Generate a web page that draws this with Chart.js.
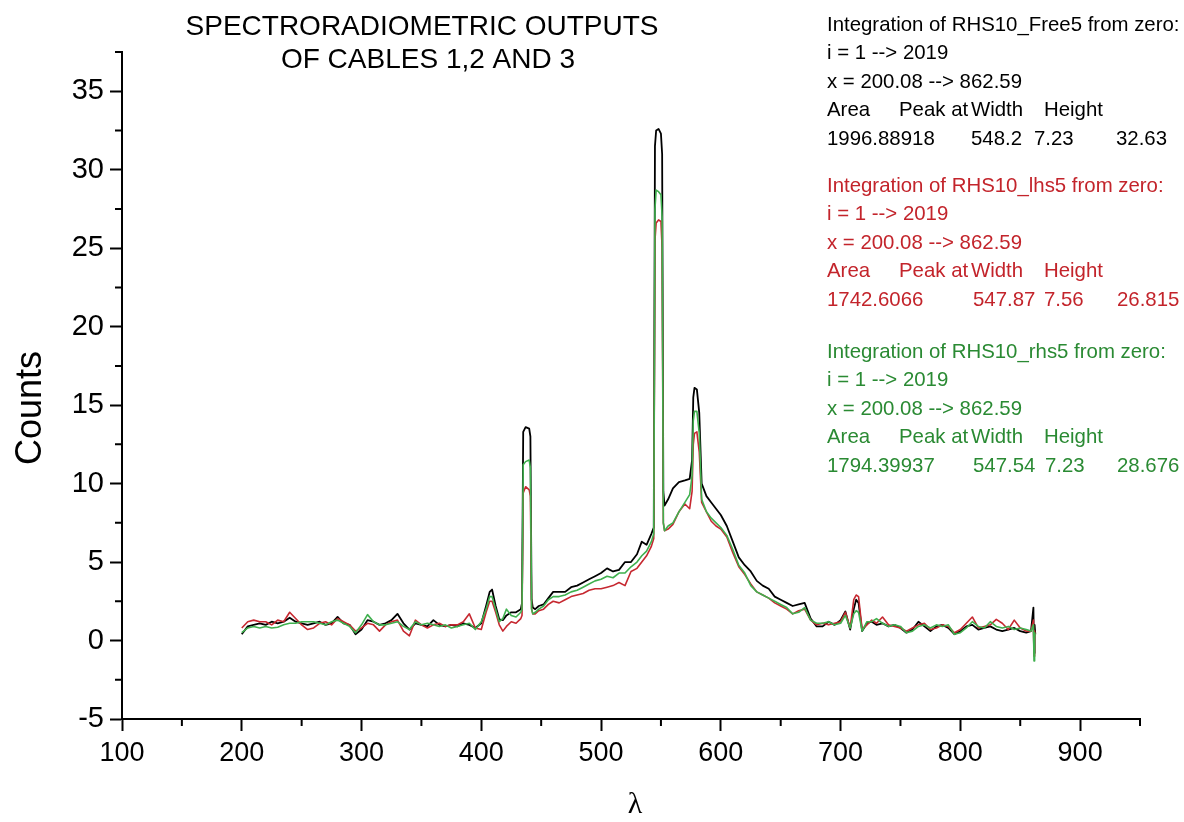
<!DOCTYPE html>
<html><head><meta charset="utf-8">
<style>html,body{margin:0;padding:0;background:#fff}#wrap{width:1184px;height:822px;position:relative}</style>
</head><body><div id="wrap"><canvas id="c" width="1184" height="822"></canvas></div>
<script src="https://cdn.jsdelivr.net/npm/chart.js@4.4.0/dist/chart.umd.min.js"></script>
<script>
// wavelength (nm)
const wavelength = [
200,205,210,215,220,225,230,235,240,245,
250,255,260,265,270,275,280,285,290,295,
300,305,310,315,320,325,330,335,340,345,
350,355,360,365,370,375,380,385,390,395,
400,
404,407,409,412,415,418,421,425,429,433,
434,435,437,440,441,442,443,445,448,452,
456,460,465,470,475,480,485,490,495,500,
505,510,515,520,525,530,534,538,542,544,
545,546,548,550,551,552,553,556,560,565,
570,574,576,577,578,580,582,584,588,592,
596,600,605,610,615,620,625,630,635,640,
645,650,655,660,665,670,675,680,685,690,
695,700,704,708,711,713,715,718,722,726,
730,735,740,745,750,755,760,765,770,775,
780,785,790,795,800,805,810,815,820,825,
830,835,840,845,850,855,859,861,861.5,862,
862.59];

// RHS10_Free5 (black)
const free5 = [
0.4,0.9,1.0,1.1,1.0,1.2,1.1,1.2,1.45,1.2,
1.1,1.0,1.1,1.2,1.0,1.1,1.5,1.1,1.0,0.4,
0.7,1.3,1.2,1.0,1.1,1.3,1.7,1.1,0.7,1.1,
1.0,0.9,1.3,1.0,0.9,1.0,0.9,1.1,1.0,0.8,
1.1,
2.2,3.1,3.25,2.2,1.35,1.3,1.6,1.8,1.8,2.0,
2.4,13.3,13.6,13.5,13.0,2.6,2.1,2.0,2.2,2.3,
2.7,3.1,3.1,3.1,3.4,3.5,3.7,3.9,4.1,4.3,
4.6,4.4,4.5,5.0,5.0,5.5,6.3,6.1,6.8,7.2,
31.5,32.5,32.6,32.3,31.0,9.5,8.6,9.0,9.7,10.1,
10.2,10.3,11.5,15.5,16.1,16.0,14.5,10.0,9.2,8.8,
8.4,8.0,7.3,6.3,5.3,4.8,4.4,3.8,3.5,3.3,
2.8,2.6,2.4,2.2,2.3,2.4,1.4,0.9,0.9,1.2,
1.0,1.3,1.85,0.7,2.0,2.6,2.4,0.6,1.1,1.2,
1.0,1.1,0.9,1.0,0.8,0.5,0.7,1.2,0.9,0.6,
0.9,1.0,0.8,0.4,0.6,0.9,1.0,0.7,0.8,0.9,
0.7,0.6,0.7,0.8,0.6,0.5,0.6,2.1,-0.8,1.0,
0.4];

// RHS10_lhs5 (red)
const lhs5 = [
0.8,1.2,1.3,1.2,1.2,1.0,1.3,1.2,1.8,1.4,
1.0,0.7,0.8,1.1,1.2,1.0,1.4,1.2,1.0,0.6,
0.8,1.1,1.0,0.6,1.0,1.2,1.3,0.6,0.3,1.3,
1.0,0.8,1.0,1.1,0.9,1.0,1.0,1.2,1.7,0.8,
0.7,
1.8,2.5,2.5,1.8,1.0,0.6,0.9,1.2,1.1,1.4,
1.6,9.4,9.8,9.6,9.2,2.0,1.7,1.7,1.9,2.0,
2.3,2.5,2.4,2.6,2.8,2.9,3.0,3.2,3.3,3.3,
3.4,3.5,3.7,3.5,4.4,4.6,5.0,5.4,6.0,6.5,
25.5,26.6,26.8,26.7,25.0,7.5,7.0,7.1,7.4,8.2,
8.7,8.4,9.5,12.5,13.2,13.3,12.0,8.8,8.2,7.6,
7.3,7.1,6.6,5.6,4.7,4.2,3.6,3.1,2.9,2.7,
2.4,2.2,2.0,1.7,1.9,2.0,1.3,1.0,1.1,1.0,
1.1,1.2,1.8,0.8,2.6,2.9,2.8,0.7,1.0,1.3,
1.1,1.5,1.0,0.9,0.8,0.6,0.8,1.0,1.1,0.7,
0.8,1.0,0.9,0.5,0.7,1.1,1.5,0.8,0.9,1.0,
1.35,1.1,0.7,1.3,0.8,0.6,0.6,1.3,-1.0,0.6,
0.3];

// RHS10_rhs5 (green)
const rhs5 = [
0.5,0.8,0.9,0.8,0.9,0.8,0.85,1.0,1.1,1.1,
1.2,1.2,1.2,1.1,1.0,1.2,1.3,1.1,0.9,0.5,
1.0,1.65,1.2,1.0,1.0,1.1,1.2,0.9,0.7,1.2,
1.0,1.1,1.0,0.9,1.0,0.8,0.9,1.0,1.1,0.7,
1.2,
2.0,2.8,2.8,2.0,1.2,1.4,2.0,1.6,1.5,1.8,
2.0,11.2,11.4,11.5,11.0,2.0,1.7,1.8,2.0,2.2,
2.6,2.8,2.8,2.9,3.1,3.2,3.4,3.6,3.8,3.9,
4.1,4.0,4.3,4.3,4.7,5.0,5.4,5.7,6.3,6.8,
27.5,28.7,28.6,28.4,27.0,7.5,7.0,7.3,7.5,8.2,
8.8,9.3,10.5,14.0,14.6,14.6,13.2,9.0,8.2,7.8,
7.5,7.2,6.7,5.8,4.8,4.3,3.5,3.1,2.9,2.7,
2.5,2.3,2.1,1.7,1.8,2.1,1.3,1.1,1.1,1.2,
1.0,1.1,1.6,0.8,1.7,1.9,1.8,0.6,1.2,1.2,
1.4,1.1,0.9,1.0,0.9,0.5,0.6,0.9,1.0,0.8,
1.0,0.9,1.0,0.4,0.5,0.8,1.2,0.9,0.8,1.2,
0.9,0.8,0.9,0.7,0.8,0.7,0.6,1.0,-1.3,0.5,
0.3];

const xMinorTicks = [150,250,350,450,550,650,750,850,950];
const yMinorTicks = [-2.5,2.5,7.5,12.5,17.5,22.5,27.5,32.5,37.5];

const titleLines = ["SPECTRORADIOMETRIC OUTPUTS", "OF CABLES 1,2 AND 3"];
const xTitle = "λ";
const yTitle = "Counts";

const headerCols = ["Area", "Peak at", "Width", "Height"];
const blocks = [
  {color:'#000000', lines:["Integration of RHS10_Free5 from zero:", "i = 1 --> 2019", "x = 200.08 --> 862.59"],
   values:["1996.88918","548.2","7.23","32.63"]},
  {color:'#c3242b', lines:["Integration of RHS10_lhs5 from zero:", "i = 1 --> 2019", "x = 200.08 --> 862.59"],
   values:["1742.6066","547.87","7.56","26.815"]},
  {color:'#2a8a33', lines:["Integration of RHS10_rhs5 from zero:", "i = 1 --> 2019", "x = 200.08 --> 862.59"],
   values:["1794.39937","547.54","7.23","28.676"]}
];

const FONT = '"Liberation Sans", Arial, sans-serif';
Chart.defaults.font.family = FONT;
Chart.defaults.color = '#000';

const pts = arr => wavelength.map((x, i) => ({x: x, y: arr[i]}));

const decor = {
  id: 'decor',
  afterDraw(chart) {
    const ctx = chart.ctx, a = chart.chartArea, xs = chart.scales.x, ys = chart.scales.y;
    ctx.save();
    ctx.strokeStyle = '#000'; ctx.lineWidth = 2;
    ctx.beginPath();
    xMinorTicks.forEach(v => { const p = xs.getPixelForValue(v); ctx.moveTo(p, a.bottom); ctx.lineTo(p, a.bottom + 7); });
    yMinorTicks.forEach(v => { const p = ys.getPixelForValue(v); ctx.moveTo(a.left, p); ctx.lineTo(a.left - 7, p); });
    ctx.stroke();

    ctx.fillStyle = '#000';
    ctx.textBaseline = 'middle';
    ctx.textAlign = 'center';
    ctx.font = '28px ' + FONT;
    ctx.fillText(titleLines[0], 422, 27);
    ctx.fillText(titleLines[1], 428, 60);

    ctx.font = '30px "Liberation Serif", "DejaVu Serif", serif';
    ctx.fillText(xTitle, 635, 805);

    ctx.save();
    ctx.translate(31, 408);
    ctx.rotate(-Math.PI / 2);
    ctx.font = '36px ' + FONT;
    ctx.fillText(yTitle, 0, 0);
    ctx.restore();

    ctx.textAlign = 'left';
    ctx.font = '20.4px ' + FONT;
    const headX = [827, 899, 971, 1044];
    const valX = [[827, 971, 1034, 1116], [827, 973, 1044, 1117], [827, 973, 1045, 1117]];
    const blockTop = [25, 186, 352];
    blocks.forEach((b, bi) => {
      ctx.fillStyle = b.color;
      const y0 = blockTop[bi];
      b.lines.forEach((t, li) => ctx.fillText(t, 827, y0 + li * 28.6));
      headerCols.forEach((t, ci) => ctx.fillText(t, headX[ci], y0 + 3 * 28.6));
      b.values.forEach((t, ci) => ctx.fillText(t, valX[bi][ci], y0 + 4 * 28.6));
    });
    ctx.restore();
  }
};

new Chart(document.getElementById('c'), {
  type: 'line',
  data: {
    datasets: [
      {label:'RHS10_Free5', data: pts(free5), borderColor:'#000000', borderWidth:1.8, pointRadius:0, order:2},
      {label:'RHS10_lhs5', data: pts(lhs5), borderColor:'#c62830', borderWidth:1.6, pointRadius:0, order:1},
      {label:'RHS10_rhs5', data: pts(rhs5), borderColor:'#3fb04e', borderWidth:1.6, pointRadius:0, order:0}
    ]
  },
  options: {
    responsive: false,
    animation: false,
    devicePixelRatio: 1,
    layout: {padding: {top: 52, right: 44, left: 0, bottom: 0}},
    elements: {line: {tension: 0, borderJoinStyle: 'round', fill: false}},
    plugins: {legend: {display: false}, tooltip: {enabled: false}, title: {display: false}},
    scales: {
      x: {
        type: 'linear', min: 100, max: 950,
        afterFit(s) { s.height = 103; },
        border: {color: '#000', width: 2},
        grid: {drawOnChartArea: false, drawTicks: true, tickLength: 12, tickColor: '#000', tickWidth: 2},
        ticks: {stepSize: 100, includeBounds: false, color: '#000', font: {size: 27}, padding: 6, maxRotation: 0, autoSkip: false}
      },
      y: {
        type: 'linear', min: -5, max: 37.5,
        afterFit(s) { s.width = 122; },
        border: {color: '#000', width: 2},
        grid: {drawOnChartArea: false, drawTicks: true, tickLength: 12, tickColor: '#000', tickWidth: 2},
        ticks: {stepSize: 5, includeBounds: false, color: '#000', font: {size: 29}, padding: 6, autoSkip: false}
      }
    }
  },
  plugins: [decor]
});
</script>
</body></html>
